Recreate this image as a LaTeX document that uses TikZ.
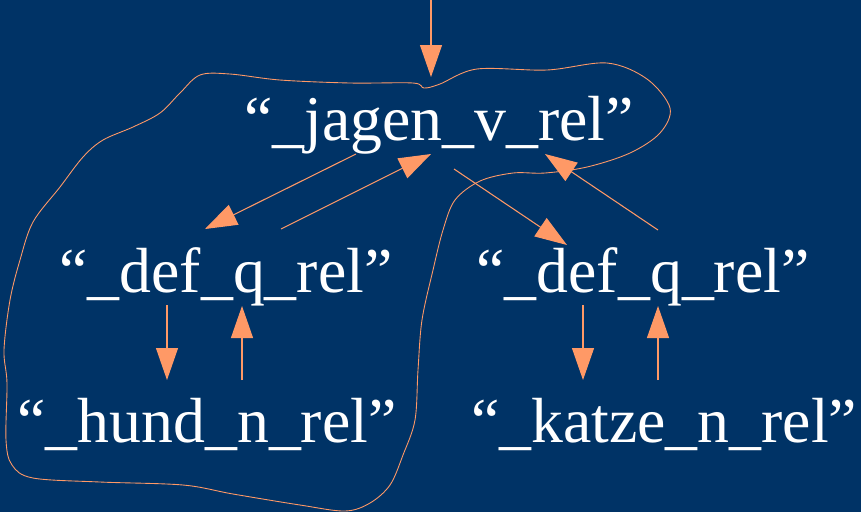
\documentclass[tikz,border=0pt]{standalone}
\usepackage{fontspec}
\setmainfont{Liberation Serif}
\usetikzlibrary{arrows.meta,calc}
\definecolor{bgblue}{HTML}{003366}
\definecolor{peach}{HTML}{FF9966}
\begin{document}
\begin{tikzpicture}[x=0.02cm, y=-0.02cm,
    rel/.style={text=white, font=\fontsize{36.3}{40}\selectfont, inner sep=0pt, anchor=base},
    link/.style={draw=peach, line width=0.6pt, -{Triangle[length=0.64cm, width=0.44cm]}}]
    % Hintergrund
    \fill[bgblue] (0,0) rectangle (861,512);
    \useasboundingbox (0,0) rectangle (861,512);
    % Relationen
    \node[rel] (jagen) at (439,140) {“\_jagen\_v\_rel”};
    \node[rel] (defl) at (226,292) {“\_def\_q\_rel”};
    \node[rel] (defr) at (643,292) {“\_def\_q\_rel”};
    \node[rel] (hund) at (207,442) {“\_hund\_n\_rel”};
    \node[rel] (katze) at (664,442) {“\_katze\_n\_rel”};
    \coordinate (entry) at (431,0);
    % Pfeile
    \draw[link] (entry) -- ($(jagen.base)+(-8,-63)$);
    \draw[link] ($(jagen.base)+(-83,14)$) -- ($(defl.base)+(-21,-63)$);
    \draw[link] ($(defl.base)+(55,-63)$) -- ($(jagen.base)+(-8,14)$);
    \draw[link] ($(jagen.base)+(15,29)$) -- ($(defr.base)+(-76,-47)$);
    \draw[link] ($(defr.base)+(15,-62)$) -- ($(jagen.base)+(106,14)$);
    \draw[link] ($(defl.base)+(-59,13)$) -- ($(hund.base)+(-40,-62)$);
    \draw[link] ($(hund.base)+(35,-62)$) -- ($(defl.base)+(16,14)$);
    \draw[link] ($(defr.base)+(-60,13)$) -- ($(katze.base)+(-81,-62)$);
    \draw[link] ($(katze.base)+(-6,-62)$) -- ($(defr.base)+(15,14)$);
    % Umrandung
    \draw[peach, line width=0.5pt] plot[smooth cycle, tension=0.55] coordinates {
        (180,93) (200,75) (230,74) (280,80) (350,83) (413,83) (424,88) (440,84)
        (477,69) (547,70) (607,63) (647,79) (670,108) (660,133) (630,153) (587,167)
        (545,173) (513,173) (480,181) (455,200) (443,230) (433,270) (422,320)
        (418,370) (415,420) (403,455) (390,485) (370,503) (345,511) (300,505)
        (233,494) (183,485) (100,482) (33,478) (12,465) (6,440) (7,383) (4,350)
        (10,300) (20,260) (33,222) (60,187) (83,157) (103,140) (133,127) (160,113)};
\end{tikzpicture}
\end{document}
